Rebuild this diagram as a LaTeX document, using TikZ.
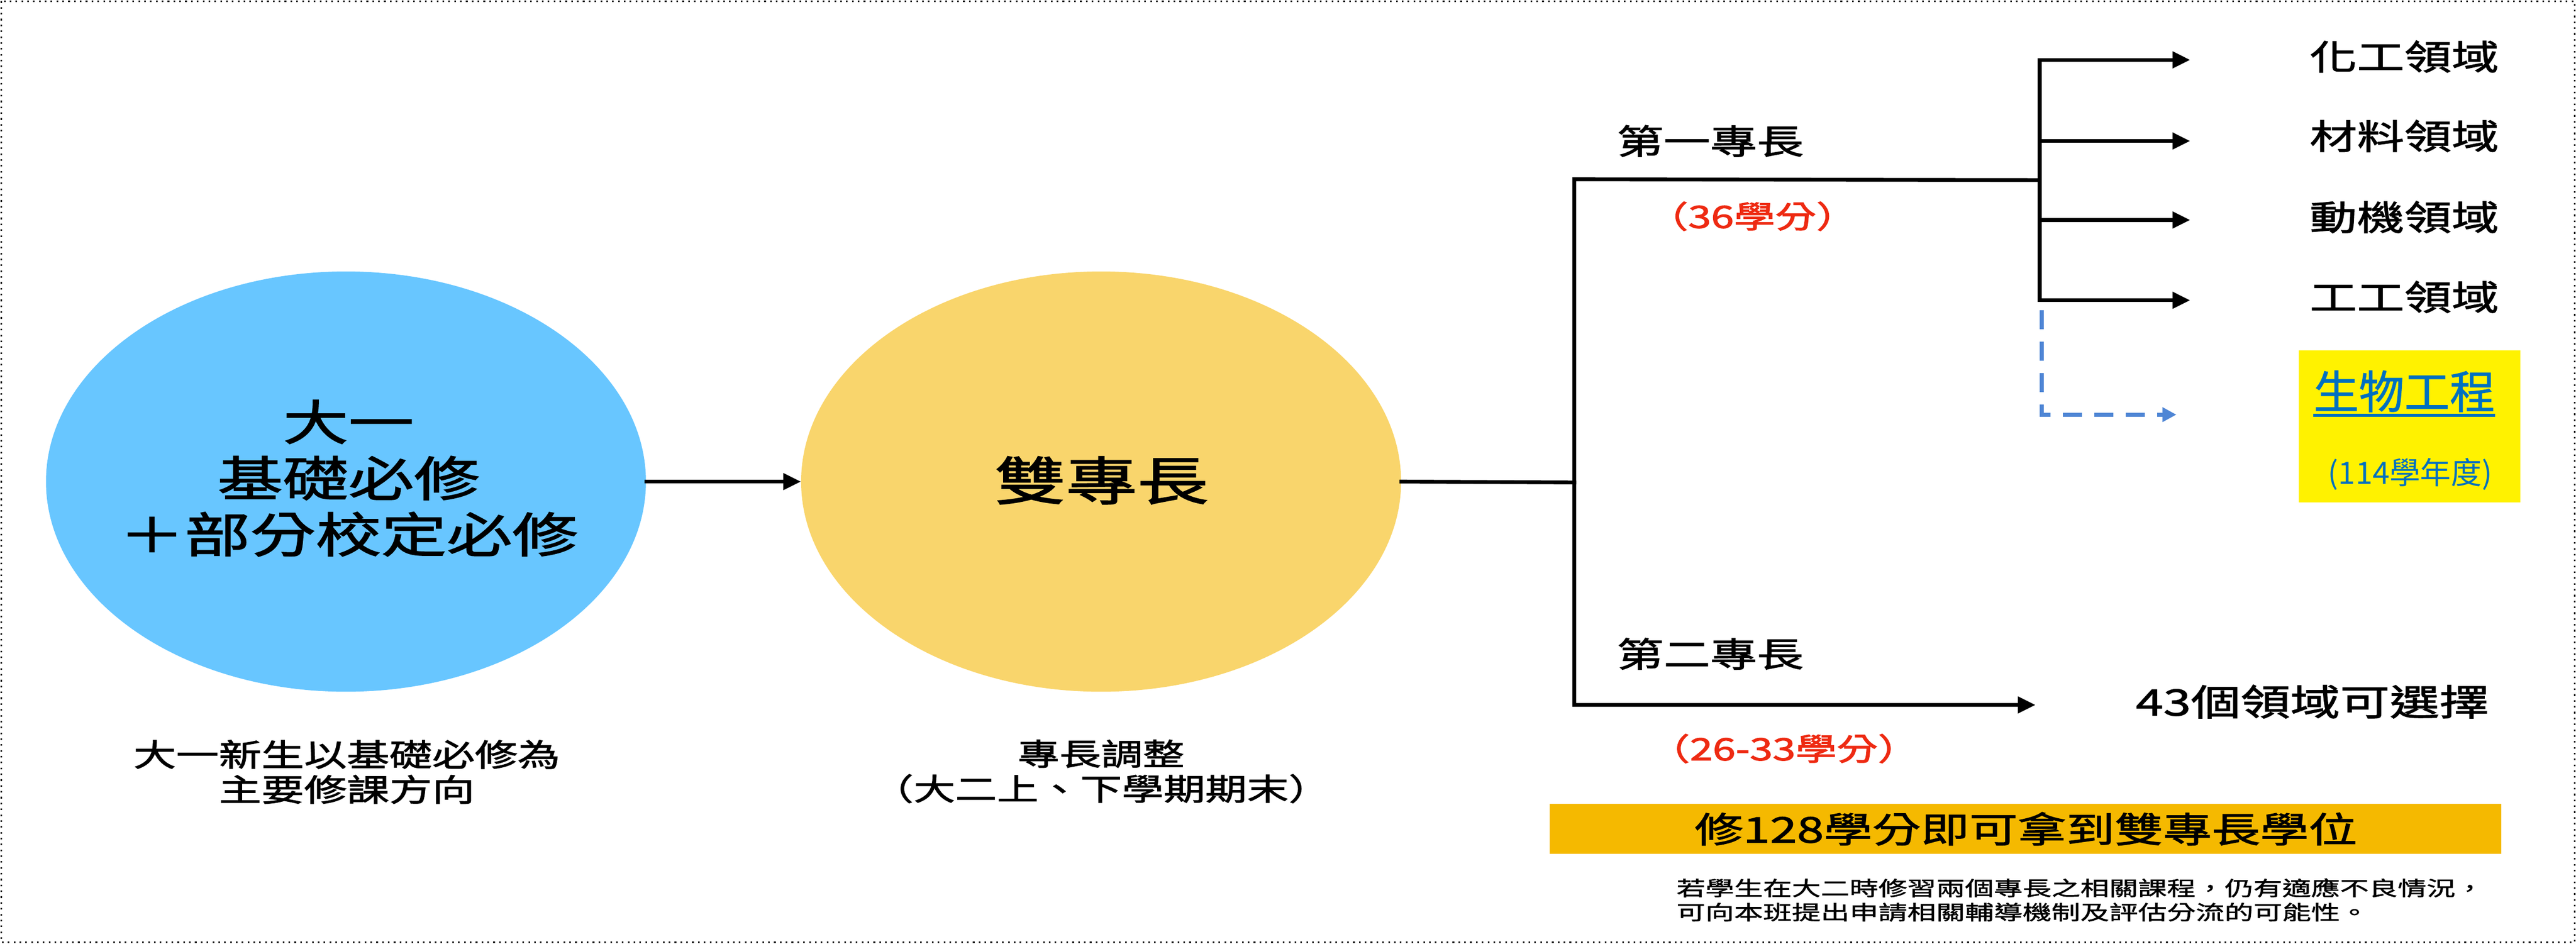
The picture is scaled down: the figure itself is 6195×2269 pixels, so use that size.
\documentclass[tikz,border=0pt]{standalone}
\usepackage{fontspec}
\usetikzlibrary{arrows.meta,shapes.geometric}
\newfontfamily\cjkW[FakeStretch=1.37,FakeBold=1.8]{Noto Sans CJK TC}
\newfontfamily\cjkR[FakeStretch=1.34,FakeBold=2.2]{Noto Sans CJK TC}
\newfontfamily\cjkT[FakeStretch=1.44,FakeBold=1.5]{Noto Sans CJK TC}
\newfontfamily\cjkB[FakeBold=1.0]{Noto Sans CJK TC}
\newfontfamily\cjkN{Noto Sans CJK TC}
\definecolor{cblue}{RGB}{104,198,255}
\definecolor{cyel}{RGB}{249,213,108}
\definecolor{cbar}{RGB}{245,185,0}
\definecolor{cred}{RGB}{238,42,18}
\definecolor{ctxtblue}{RGB}{0,112,192}
\definecolor{cdash}{RGB}{79,134,213}
\tikzset{
  ell/.style={ellipse, draw=none, minimum width=14.42cm, minimum height=10.1cm, inner sep=0pt},
  ln/.style={line width=2.6pt, black, line cap=rect, line join=miter},
  arr/.style={ln, -{Triangle[length=12pt,width=11pt]}},
  darr/.style={line width=2.9pt, cdash, dash pattern=on 13pt off 8.5pt, -{Triangle[length=9.5pt,width=9.5pt]}},
  txt/.style={inner sep=0pt, align=center},
  lab/.style={txt, font=\cjkW\fontsize{23.6pt}{28pt}\selectfont},
  credit/.style={txt, font=\cjkR\fontsize{21pt}{26pt}\selectfont, text=cred},
}
\begin{document}
\begin{tikzpicture}[x=0.01cm,y=-0.01cm]
\useasboundingbox (0,0) rectangle (6195,2269);
\draw[line width=1.1pt, dash pattern=on 1.1pt off 2.9pt] (3,3) rectangle (6192,2266);

% circles
\node[ell, fill=cblue] (c1) at (832,1158) {};
\node[ell, fill=cyel] (c2) at (2648,1158) {};
\node[txt, font=\cjkW\fontsize{32.7pt}{38.4pt}\selectfont] (t1) at (838,1150) {大一\\基礎必修\\＋部分校定必修};
\node[txt, font=\cjkW\fontsize{35.6pt}{40pt}\selectfont] (t2) at (2649,1155) {雙專長};
\node[txt, font=\cjkW\fontsize{21.3pt}{23.9pt}\selectfont] (s1) at (834,1856) {大一新生以基礎必修為\\主要修課方向};
\node[txt, font=\cjkW\fontsize{20.8pt}{23.9pt}\selectfont] (s2) at (2648,1855) {專長調整\\（大二上、下學期期末）};

\draw[arr] (c1.east) -- (c2.west);

% main bracket
\coordinate (j1) at (3786,1160);
\coordinate (ta) at (3786,431);
\coordinate (tb) at (3786,1695);
\coordinate (j2) at (4905,433);
\coordinate (e43) at (4895,1695);
\draw[ln] (c2.east) -- (j1);
\draw[arr] (j2) -- (ta) -- (tb) -- (e43);

\node[txt, font=\cjkW\fontsize{23.3pt}{28pt}\selectfont] (f1) at (4113,339) {第一專長};
\node[credit] (r1) at (4214,520) {（36學分）};
\node[txt, font=\cjkW\fontsize{23.3pt}{28pt}\selectfont] (f2) at (4113,1572) {第二專長};
\node[credit] (r2) at (4290,1800) {（26-33學分）};
\node[txt, font=\cjkW\fontsize{24.8pt}{28pt}\selectfont] (o43) at (5561,1687) {43個領域可選擇};

% second bracket
\node[lab] (l1) at (5782,136) {化工領域};
\node[lab] (l2) at (5782,327) {材料領域};
\node[lab] (l3) at (5782,522) {動機領域};
\node[lab] (l4) at (5782,714) {工工領域};
\coordinate (v1) at (4905,144);
\coordinate (v2) at (4905,339);
\coordinate (v3) at (4905,529);
\coordinate (v4) at (4905,722);
\coordinate (e1) at (5267,144);
\coordinate (e2) at (5267,339);
\coordinate (e3) at (5267,529);
\coordinate (e4) at (5267,722);
\draw[ln] (v1) -- (v4);
\draw[arr] (v1) -- (e1);
\draw[arr] (v2) -- (e2);
\draw[arr] (v3) -- (e3);
\draw[arr] (v4) -- (e4);

% dashed branch
\coordinate (d0) at (4910,746);
\coordinate (d1) at (4910,997);
\coordinate (d2) at (5234,997);
\draw[darr] (d0) -- (d1) -- (d2);

\node[draw=none, fill=yellow, minimum width=5.32cm, minimum height=3.65cm, inner sep=0pt] (ybox) at (5795,1025) {};
\node[txt, font=\cjkB\fontsize{31pt}{36pt}\selectfont, text=ctxtblue] (bio) at (5782,941) {生物工程};
\draw[ctxtblue, line width=2.2pt] ([yshift=-4.6pt]bio.base west) -- ([yshift=-4.6pt]bio.base east);
\node[txt, font=\cjkN\fontsize{21pt}{25pt}\selectfont, text=ctxtblue] (yr) at (5796,1140) {(114學年度)};

% bottom bar
\node[draw=none, fill=cbar, minimum width=22.87cm, minimum height=1.2cm, inner sep=0pt] (bar) at (4871,1993) {};
\node[txt, font=\cjkW\fontsize{24.2pt}{28pt}\selectfont] (bart) at (4872,1993) {修128學分即可拿到雙專長學位};
\node[inner sep=0pt, align=left, anchor=west, font=\cjkT\fontsize{13.7pt}{16.5pt}\selectfont] (note) at (4031,2164) {若學生在大二時修習兩個專長之相關課程，仍有適應不良情況，\\可向本班提出申請相關輔導機制及評估分流的可能性。};
\end{tikzpicture}
\end{document}
